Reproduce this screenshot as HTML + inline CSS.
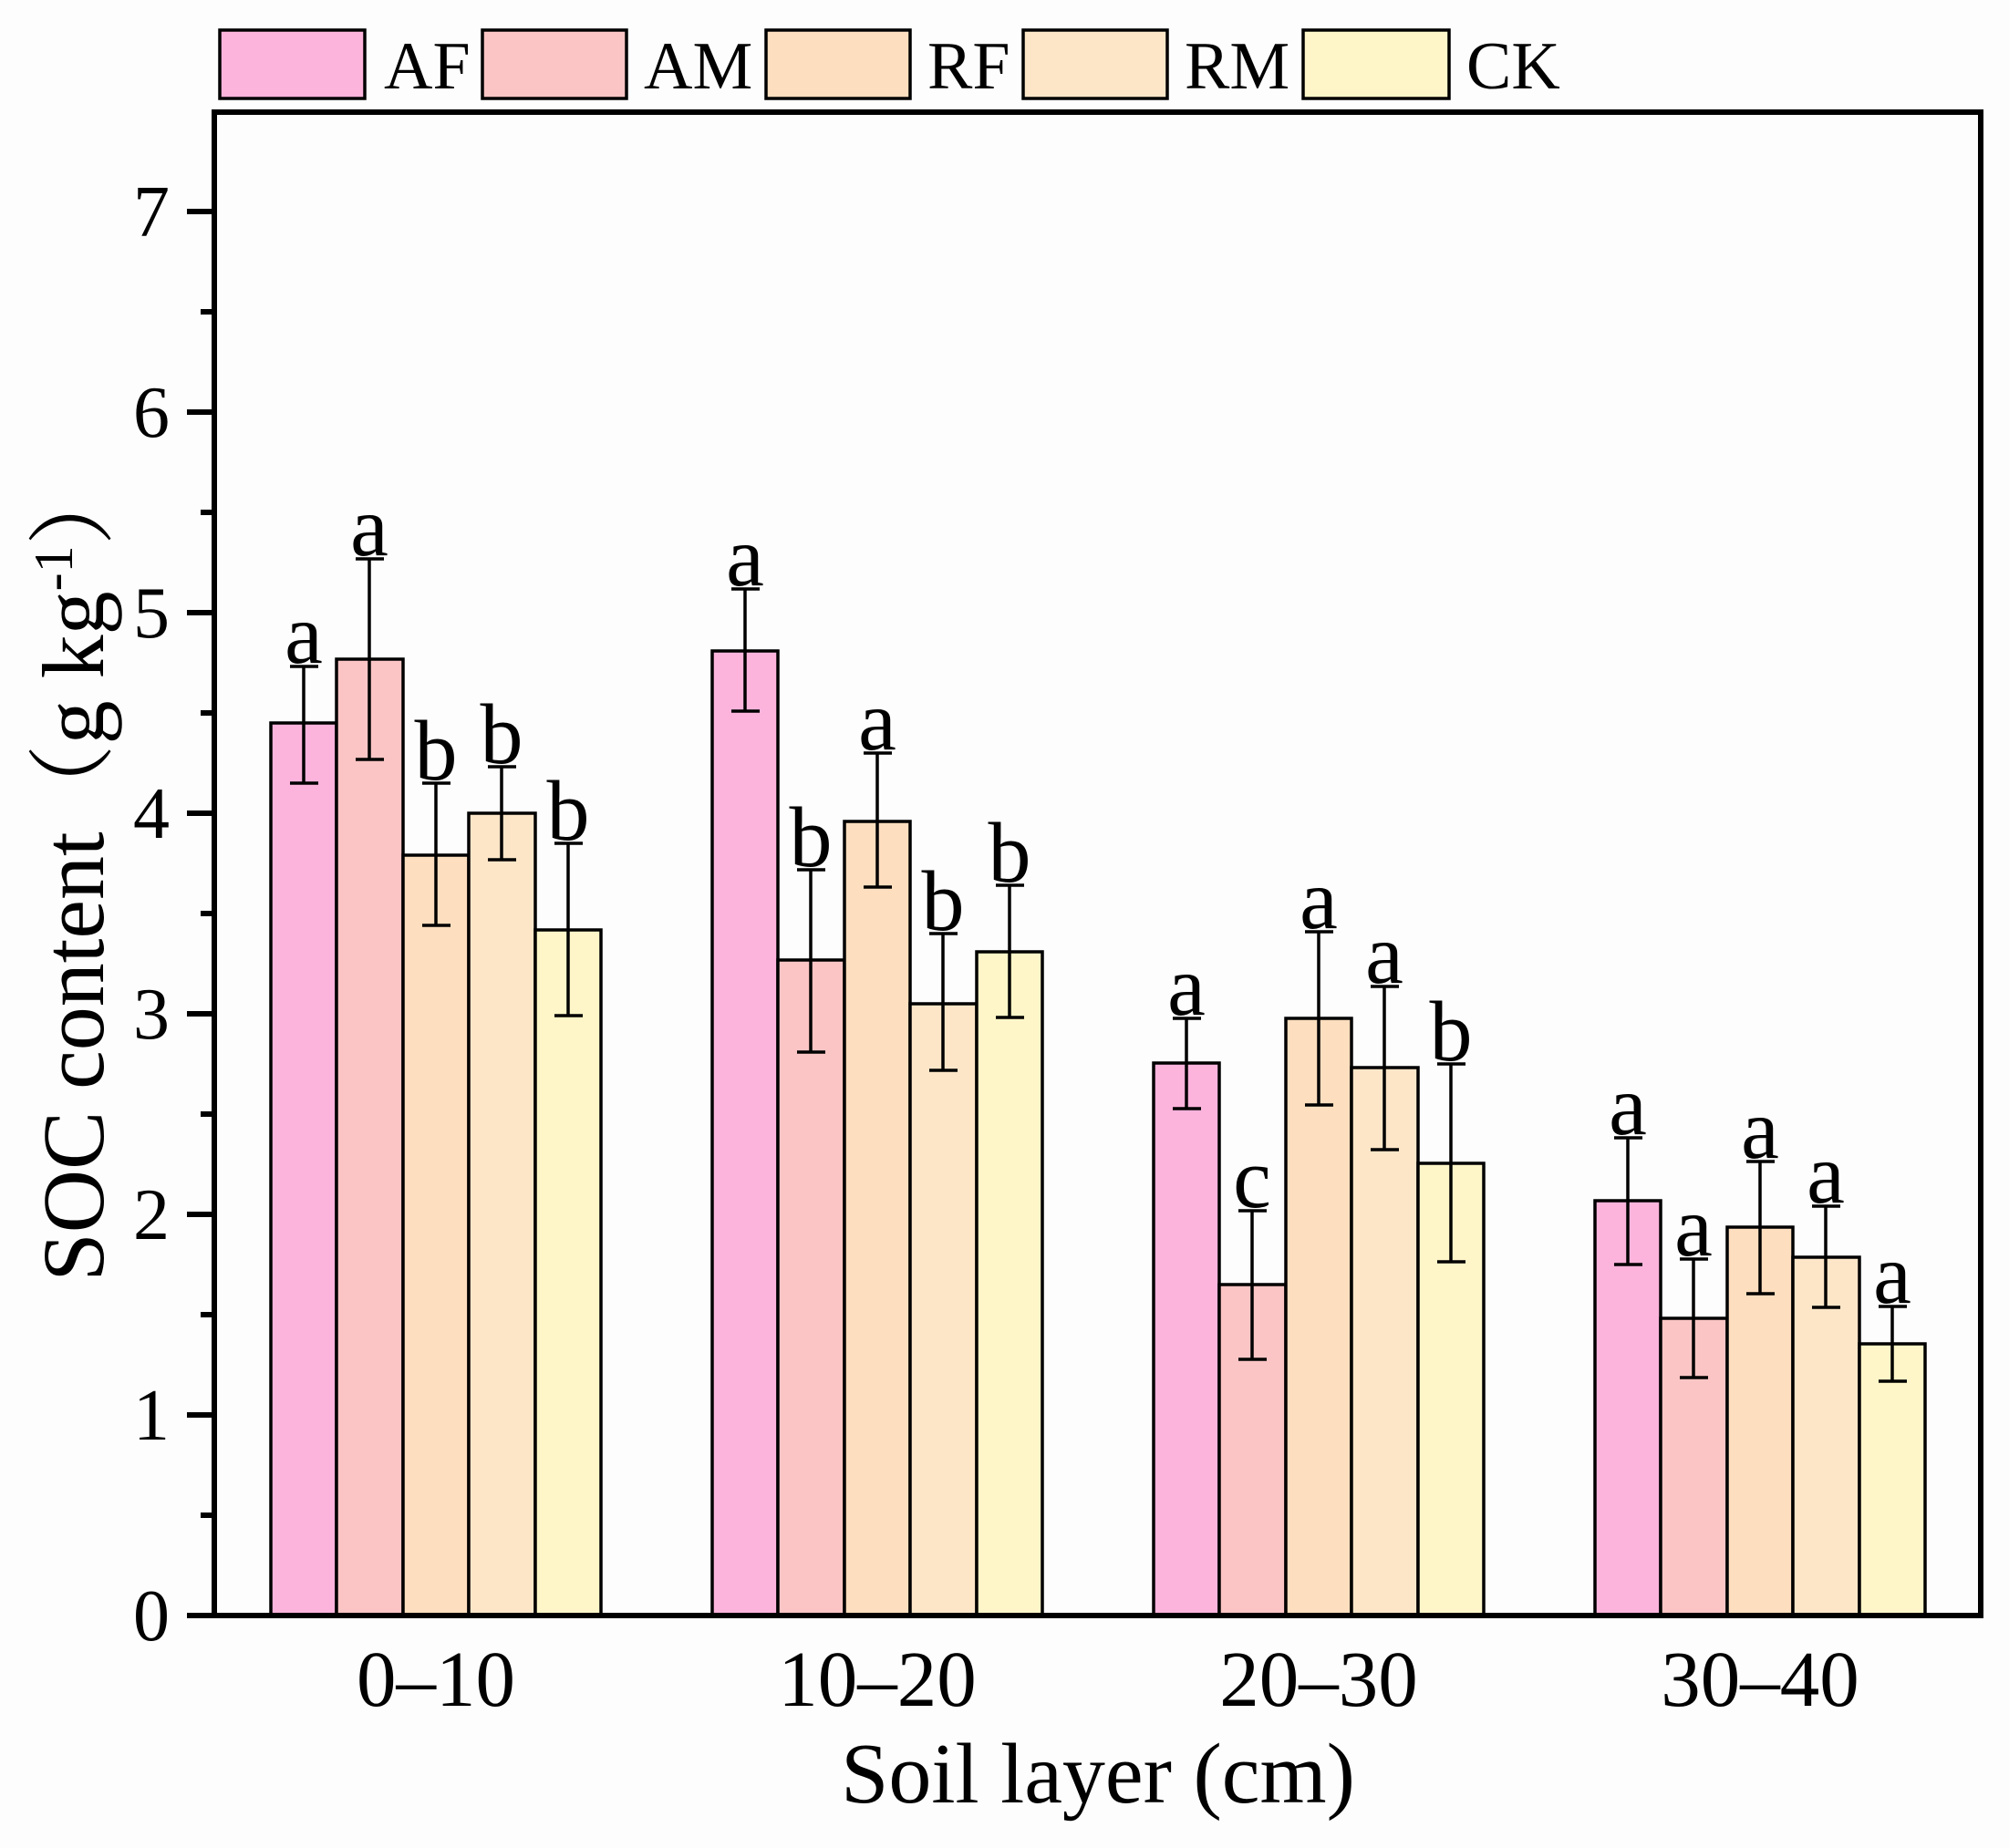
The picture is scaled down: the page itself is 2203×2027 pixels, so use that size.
<!DOCTYPE html>
<html><head><meta charset="utf-8"><style>
html,body{margin:0;padding:0;background:#fdfdfd;}
svg{display:block;}
text{font-family:"Liberation Serif","Noto Serif CJK SC",serif;fill:#000;}
</style></head><body>
<svg width="2203" height="2027" viewBox="0 0 2203 2027" xmlns="http://www.w3.org/2000/svg">
<rect width="2203" height="2027" fill="#fdfdfd"/>
<g stroke="#000" stroke-width="3.5">
<rect x="241" y="33" width="159" height="75" fill="#FDB4DC"/>
<rect x="529" y="33" width="158" height="75" fill="#FCC5C5"/>
<rect x="840" y="33" width="158" height="75" fill="#FDDEBE"/>
<rect x="1122" y="33" width="158" height="75" fill="#FDE6C8"/>
<rect x="1429" y="33" width="160" height="75" fill="#FEF6C8"/>
</g>
<g font-size="74">
<text x="421" y="97">AF</text>
<text x="706" y="97">AM</text>
<text x="1017" y="97">RF</text>
<text x="1299" y="97">RM</text>
<text x="1608" y="97">CK</text>
</g>
<g stroke="#000" stroke-width="3.5">
<rect x="297" y="793" width="72" height="979" fill="#FDB4DC"/>
<rect x="369" y="723" width="73" height="1049" fill="#FCC5C5"/>
<rect x="442" y="938" width="72" height="834" fill="#FDDEBE"/>
<rect x="514" y="892" width="73" height="880" fill="#FDE6C8"/>
<rect x="587" y="1020" width="72" height="752" fill="#FEF6C8"/>
<rect x="781" y="714" width="72" height="1058" fill="#FDB4DC"/>
<rect x="853" y="1053" width="73" height="719" fill="#FCC5C5"/>
<rect x="926" y="901" width="72" height="871" fill="#FDDEBE"/>
<rect x="998" y="1101" width="73" height="671" fill="#FDE6C8"/>
<rect x="1071" y="1044" width="72" height="728" fill="#FEF6C8"/>
<rect x="1265" y="1166" width="72" height="606" fill="#FDB4DC"/>
<rect x="1337" y="1409" width="73" height="363" fill="#FCC5C5"/>
<rect x="1410" y="1117" width="72" height="655" fill="#FDDEBE"/>
<rect x="1482" y="1171" width="73" height="601" fill="#FDE6C8"/>
<rect x="1555" y="1276" width="72" height="496" fill="#FEF6C8"/>
<rect x="1749" y="1317" width="72" height="455" fill="#FDB4DC"/>
<rect x="1821" y="1446" width="73" height="326" fill="#FCC5C5"/>
<rect x="1894" y="1346" width="72" height="426" fill="#FDDEBE"/>
<rect x="1966" y="1379" width="73" height="393" fill="#FDE6C8"/>
<rect x="2039" y="1474" width="72" height="298" fill="#FEF6C8"/>
</g>
<g stroke="#000" stroke-width="3.5" fill="none">
<path d="M333 731V859M318 731H349M318 859H349"/>
<path d="M405 613V833M390 613H421M390 833H421"/>
<path d="M478 859V1015M463 859H494M463 1015H494"/>
<path d="M550 841V943M535 841H566M535 943H566"/>
<path d="M623 925V1114M608 925H639M608 1114H639"/>
<path d="M817 646V780M802 646H833M802 780H833"/>
<path d="M889 954V1154M874 954H905M874 1154H905"/>
<path d="M962 826V973M947 826H978M947 973H978"/>
<path d="M1034 1024V1174M1019 1024H1050M1019 1174H1050"/>
<path d="M1107 971V1116M1092 971H1123M1092 1116H1123"/>
<path d="M1301 1117V1216M1286 1117H1317M1286 1216H1317"/>
<path d="M1373 1328V1491M1358 1328H1389M1358 1491H1389"/>
<path d="M1446 1022V1212M1431 1022H1462M1431 1212H1462"/>
<path d="M1518 1082V1261M1503 1082H1534M1503 1261H1534"/>
<path d="M1591 1167V1384M1576 1167H1607M1576 1384H1607"/>
<path d="M1785 1248V1387M1770 1248H1801M1770 1387H1801"/>
<path d="M1857 1381V1511M1842 1381H1873M1842 1511H1873"/>
<path d="M1930 1274V1419M1915 1274H1946M1915 1419H1946"/>
<path d="M2002 1323V1434M1987 1323H2018M1987 1434H2018"/>
<path d="M2075 1433V1515M2060 1433H2091M2060 1515H2091"/>
</g>
<g font-size="94" text-anchor="middle">
<text x="333" y="727">a</text><text x="405" y="609">a</text><text x="478" y="855">b</text><text x="550" y="837">b</text><text x="623" y="921">b</text>
<text x="817" y="642">a</text><text x="889" y="950">b</text><text x="962" y="822">a</text><text x="1034" y="1020">b</text><text x="1107" y="967">b</text>
<text x="1301" y="1113">a</text><text x="1373" y="1324">c</text><text x="1446" y="1018">a</text><text x="1518" y="1078">a</text><text x="1591" y="1163">b</text>
<text x="1785" y="1244">a</text><text x="1857" y="1377">a</text><text x="1930" y="1270">a</text><text x="2002" y="1319">a</text><text x="2075" y="1429">a</text>
</g>
<rect x="235" y="123" width="1937" height="1649" fill="none" stroke="#000" stroke-width="6"/>
<g stroke="#000" stroke-width="6">
<path d="M205 1772H235M205 1552H235M205 1332H235M205 1112H235M205 892H235M205 672H235M205 452H235M205 232H235"/>
<path d="M220 1662H235M220 1442H235M220 1222H235M220 1002H235M220 782H235M220 562H235M220 342H235"/>
</g>
<g font-size="80" text-anchor="end">
<text x="186" y="1799">0</text>
<text x="186" y="1579">1</text>
<text x="186" y="1359">2</text>
<text x="186" y="1139">3</text>
<text x="186" y="919">4</text>
<text x="186" y="699">5</text>
<text x="186" y="479">6</text>
<text x="186" y="259">7</text>
</g>
<g font-size="87" text-anchor="middle">
<text x="478" y="1871">0–10</text>
<text x="962" y="1871">10–20</text>
<text x="1446" y="1871">20–30</text>
<text x="1930" y="1871">30–40</text>
</g>
<text x="1204" y="1977" font-size="94" text-anchor="middle">Soil layer (cm)</text>
<text transform="translate(113,954) rotate(-90)" font-size="96" text-anchor="middle">SOC content（g kg<tspan dy="-34" font-size="60">-1</tspan><tspan dy="34">）</tspan></text>
</svg>
</body></html>
